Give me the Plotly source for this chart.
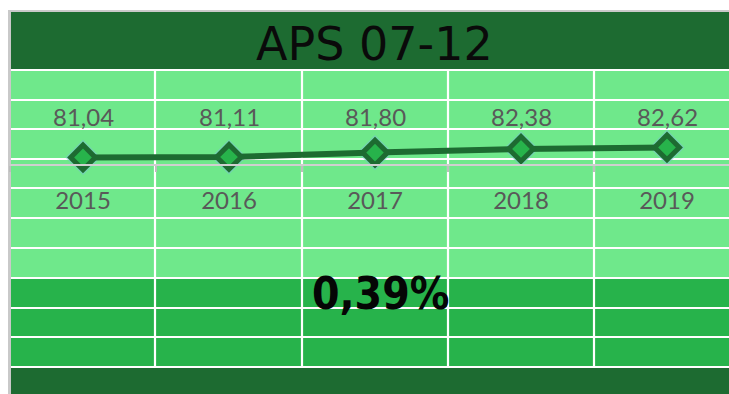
import plotly.graph_objects as go

# --- data -------------------------------------------------------------
years = ["2015", "2016", "2017", "2018", "2019"]
aps_values = [81.04, 81.11, 81.80, 82.38, 82.62]
avg_growth_pct = 0.39
title_text = "APS 07-12"

# --- sheet geometry (pixels) ------------------------------------------
W, H = 729, 394
LEFT = 11                      # first cell column starts here
COL_W = 146                    # width of one sheet column
FIRST_CENTER = 83              # centre of first data column
col_lines = [155, 302, 448, 594]
row_lines = [70, 100, 129, 159, 188, 218, 248, 278, 308, 337, 367]
AXIS_Y = 164                   # pixel row of the category axis
Y_MIN = 80.0                   # value sitting on the category axis
PX_PER_UNIT = 6.33
PLOT_TOP = 70

DARK = "#1d6b31"
LIGHT = "#6fe88b"
MEDIUM = "#27b34b"
BORDER = "#c9c9c9"
LABEL = "#595959"


def fx(px):
    return px / W


def fy(py):
    return 1 - py / H


def rect(x0, y0, x1, y1, color):
    return dict(type="rect", xref="paper", yref="paper", layer="below",
                x0=fx(x0), x1=fx(x1), y0=fy(y1), y1=fy(y0),
                fillcolor=color, line=dict(width=0))


def line(x0, y0, x1, y1, color, width):
    return dict(type="line", xref="paper", yref="paper", layer="below",
                x0=fx(x0), x1=fx(x1), y0=fy(y0), y1=fy(y1),
                line=dict(color=color, width=width))


shapes = [
    rect(8, 10, W, 12, BORDER),
    rect(8, 10, 11, H, BORDER),
    rect(LEFT, 12, W, 69, DARK),
    rect(LEFT, 69, W, 279, LIGHT),
    rect(LEFT, 279, W, 368, MEDIUM),
    rect(LEFT, 368, W, H, DARK),
]
for y in row_lines:
    shapes.append(line(LEFT, y, W, y, "white", 2.2))
for x in col_lines:
    shapes.append(line(x, row_lines[0], x, row_lines[-1], "white", 2.2))

# --- axis ranges so categories fall on the column centres --------------
x_dom0 = fx(LEFT - 1)
x_lo = -(FIRST_CENTER - (LEFT - 1)) / COL_W
x_hi = x_lo + (W - (LEFT - 1)) / COL_W
y_hi = Y_MIN + (AXIS_Y - PLOT_TOP) / PX_PER_UNIT

fig = go.Figure()

# soft glow behind the markers
fig.add_trace(go.Scatter(
    x=years, y=aps_values, mode="markers", hoverinfo="skip",
    marker=dict(symbol="diamond", size=27, color="rgba(120,195,205,0.6)",
                line=dict(width=0)),
    cliponaxis=False, showlegend=False))

fig.add_trace(go.Scatter(
    x=years, y=aps_values, mode="lines+markers",
    line=dict(color=DARK, width=6),
    marker=dict(symbol="diamond", size=19, color=MEDIUM,
                line=dict(color=DARK, width=5)),
    cliponaxis=False, showlegend=False))

annotations = [
    dict(text=title_text, xref="paper", yref="paper", x=fx(374), y=fy(44),
         showarrow=False, xanchor="center", yanchor="middle",
         font=dict(family="DejaVu Sans", size=46, color="#0a0a0a")),
    dict(text=f"{avg_growth_pct:.2f}%".replace(".", ","), xref="paper",
         yref="paper", x=fx(380), y=fy(293), showarrow=False,
         xanchor="center", yanchor="middle",
         font=dict(family="DejaVu Sans Condensed, Roboto Condensed, "
                          "Liberation Sans Narrow, Liberation Sans",
                   size=44, color="#050505", weight="bold")),
]
for i, v in enumerate(aps_values):
    annotations.append(dict(
        text=f"{v:.2f}".replace(".", ","), x=i, xref="x", yref="paper",
        y=fy(116), showarrow=False, xanchor="center", yanchor="middle",
        font=dict(family="Lato", size=24, color=LABEL)))

fig.update_layout(
    width=W, height=H,
    margin=dict(l=0, r=0, t=0, b=0, pad=0),
    paper_bgcolor="white", plot_bgcolor="rgba(0,0,0,0)",
    shapes=shapes, annotations=annotations,
    xaxis=dict(type="category", domain=[x_dom0, 1], range=[x_lo, x_hi],
               showgrid=False, zeroline=False, showline=True,
               linecolor="#cfcfcf", linewidth=2,
               ticks="outside", tickson="boundaries", ticklen=6,
               tickwidth=2, tickcolor="#bdbdbd",
               ticklabelstandoff=14,
               tickfont=dict(family="Lato", size=24, color=LABEL),
               automargin=False, fixedrange=True),
    yaxis=dict(domain=[fy(AXIS_Y), fy(PLOT_TOP)], range=[Y_MIN, y_hi],
               visible=False, automargin=False, fixedrange=True),
)

fig.write_html("out.html")
